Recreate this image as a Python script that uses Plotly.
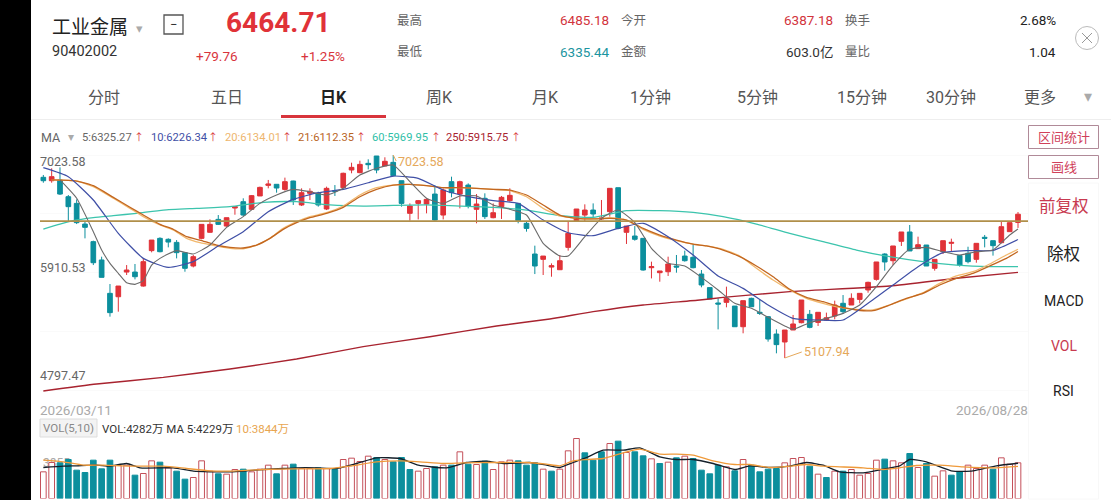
import plotly.graph_objects as go

W, H = 1111, 500

# ---- daily candles (index 0..117) ----
opens = [6813,6781,6788,6630,6567,6372,6206,6033,5718,5686,5919,5919,5787,6121,6237,6228,6199,6102,5976,6237,
         6294,6416,6353,6523,6583,6511,6637,6737,6747,6699,6778,6552,6662,6662,6514,6687,6715,6882,6857,6945,
         7014,6920,6954,6781,6473,6567,6561,6655,6457,6772,6655,6740,6511,6615,6432,6536,6593,6567,6379,6089,
         6039,5966,5941,6152,6404,6457,6504,6420,6489,6715,6294,6259,6237,5960,5913,5922,5976,6070,6058,5900,
         5772,5627,5633,5598,5403,5671,5539,5498,5334,5259,5372,5441,5520,5444,5466,5504,5624,5608,5661,5750,
         5850,6089,6026,6209,6297,6140,6174,5954,6111,6190,6074,6096,6039,6247,6215,6196,6300,6387.18]
closes = [6781,6819,6655,6536,6385,6341,6007,5869,5536,5787,5938,5875,6017,6221,6111,6202,6102,5954,6064,6369,
          6369,6369,6432,6536,6457,6640,6718,6750,6712,6772,6599,6668,6681,6552,6709,6681,6851,6907,6935,6932,
          6882,6964,6828,6567,6542,6593,6605,6410,6693,6668,6772,6542,6561,6442,6479,6624,6643,6404,6331,5976,
          6070,5979,6026,6284,6514,6504,6467,6429,6709,6331,6353,6228,5938,5970,5929,5995,5966,6026,5960,5797,
          5665,5617,5671,5403,5649,5592,5529,5287,5234,5372,5429,5655,5397,5539,5488,5608,5545,5671,5718,5822,
          6014,6014,6165,6297,6118,6177,5976,6039,6215,6199,5985,6017,6190,6237,6168,6347,6385,6464.71]
highs = [6835,6898,6907,6646,6605,6394,6215,6064,5806,5787,5985,5995,6048,6221,6247,6237,6221,6102,6080,6369,
         6416,6457,6432,6542,6615,6646,6725,6788,6747,6810,6781,6709,6709,6677,6725,6740,6857,6951,6970,6983,
         7010,7002,7023.58,6781,6567,6599,6615,6740,6709,6819,6781,6756,6655,6662,6567,6637,6709,6567,6394,6168,
         6070,6001,6080,6394,6514,6558,6567,6599,6709,6715,6353,6353,6237,6017,5929,6064,6080,6121,6183,5938,
         5772,5671,5781,5598,5649,5677,5655,5504,5378,5372,5514,5655,5561,5539,5536,5649,5702,5718,5718,5828,
         6014,6096,6165,6297,6363,6253,6174,6039,6215,6234,6080,6158,6190,6269,6215,6394,6385,6485.18]
lows = [6762,6762,6646,6394,6372,6237,5985,5869,5498,5545,5891,5850,5781,6105,6105,6152,6048,5922,5963,6228,
        6291,6363,6347,6460,6448,6504,6637,6709,6668,6687,6552,6542,6599,6536,6504,6637,6709,6851,6851,6888,
        6851,6920,6825,6536,6404,6416,6473,6404,6416,6624,6520,6520,6379,6420,6426,6420,6583,6379,6300,5900,
        5891,5875,5938,6121,6404,6401,6435,6410,6442,6322,6184,6215,5932,5859,5828,5882,5913,6017,5954,5775,
        5665,5378,5586,5403,5341,5592,5514,5262,5152,5107.94,5372,5435,5388,5410,5457,5473,5523,5608,5624,5724,
        5838,5932,5985,6165,6118,6140,5976,5932,6089,6111,5970,6001,6007,6152,6074,6190,6300,6335.44]

# ---- price moving averages ----
ma5_x = [2,4,6,7,8,9,10,11,12,13,14,16,18,20,22,24,26,28,30,32,34,36,38,40,42,44,46,48,50,52,54,56,58,60,62,63,65,67,69,71,73,75,77,79,81,83,85,87,89,90,92,94,96,98,100,102,104,106,108,110,112,114,116,117]
ma5_y = [6788,6615,6300,6127,6001,5907,5818,5803,5838,5985,6048,6121,6089,6174,6341,6442,6567,6646,6699,6677,6646,6709,6835,6898,6929,6772,6615,6567,6637,6637,6552,6511,6457,6190,6070,6070,6253,6426,6504,6385,6143,6001,5976,5869,5750,5624,5577,5492,5410,5378,5441,5482,5529,5608,5781,5985,6133,6152,6111,6080,6111,6127,6269,6325.27]
ma10_x = [0,3,6,9,12,15,18,21,24,27,30,33,36,39,42,45,48,51,54,57,60,63,66,69,72,75,78,81,84,87,90,93,96,99,102,105,108,111,114,117]
ma10_y = [6904,6819,6599,6284,6048,5963,6017,6165,6300,6489,6605,6668,6699,6762,6825,6803,6693,6630,6593,6567,6410,6290,6262,6331,6379,6253,6080,5882,5765,5608,5482,5466,5466,5624,5797,5970,6102,6121,6124,6226.34]
ma2x_x = [1,4,6,8.4,10.4,12,14,15.6,17.2,18.8,20.8,22.4,24,25.6,27.2,28.8,30.4,32,34,36,38,40,42,44,46,48,50,52,54,56,58,60,62,64,66,68,70,72,74,76,78,79.6,81.6,83.6,85.6,87.6,89.6,91.6,93.6,95.6,97.6,99.6,101.6,103.6,105.6,107.6,109.6,111.6,113.6,115.6,117]
ma20_y = [6788,6778,6725,6615,6520,6442,6363,6316,6237,6196,6165,6143,6139,6174,6237,6331,6394,6442,6479,6542,6646,6715,6740,6747,6734,6715,6715,6709,6699,6687,6630,6520,6448,6426,6420,6432,6410,6322,6259,6215,6183,6165,6133,6070,5954,5844,5750,5671,5624,5586,5567,5561,5608,5665,5724,5812,5882,5922,5995,6080,6134.01]
ma21_y = [6788,6778,6734,6624,6530,6457,6369,6322,6253,6221,6174,6152,6146,6174,6237,6322,6385,6432,6473,6530,6630,6699,6740,6747,6734,6715,6715,6709,6699,6693,6646,6552,6457,6426,6420,6426,6410,6331,6268,6221,6183,6165,6127,6064,5976,5875,5756,5680,5639,5592,5561,5554,5608,5671,5718,5797,5860,5907,5976,6048,6112.35]
ma60_x = [0,2,3.6,6,8.4,11.2,14.4,18.4,22.4,26.4,30.4,34.4,38.4,42,46,50,54,58,62,66,70,74,78,81.6,85.6,89.6,93.6,97.6,101.6,105.6,109.6,113.6,117]
ma60_y = [6325,6372,6404,6432,6451,6473,6504,6520,6536,6577,6583,6552,6542,6548,6552,6542,6530,6504,6451,6435,6498,6498,6482,6442,6372,6284,6206,6127,6064,6017,5985,5970,5969.95]
ma250_x = [0,6.4,14.4,22.4,30.4,38.4,46.4,54.4,60.8,66,72,78.8,81.6,89.6,101.6,109.6,117]
ma250_y = [4796,4862,4925,5004,5098,5215,5309,5410,5476,5545,5608,5655,5680,5734,5787,5860,5915.75]
level_price = 6400

# ---- volume (万) ----
volumes = [3200,4320,4280,4680,3400,3120,4600,3560,4600,3960,4000,2800,3000,4520,4360,3680,3280,2320,2520,4520,
           3280,2960,2920,3480,3520,3200,3520,4000,2960,4000,4120,3600,3600,3680,3600,3480,4680,4840,4440,5080,
           4920,4680,4400,4920,3480,3280,3600,3800,4000,4000,5600,4120,4080,4480,3480,4400,4600,4520,4000,4280,
           3520,3280,3520,5720,7200,5480,4600,5600,6600,6880,5520,5600,5120,4760,4200,4360,4880,5080,4800,3400,
           2960,4000,3800,3320,4680,4000,3200,3520,3600,4280,4800,4920,3880,2920,2520,3280,3280,3480,2800,3000,
           4600,4720,4520,4280,5400,3720,4200,2680,3320,2800,3200,4000,3600,4000,3520,4880,4120,4282]
vol_up = [1,1,0,0,0,0,0,0,0,1,1,0,1,1,0,1,0,0,1,1,
          1,0,1,1,0,1,1,1,0,1,0,1,1,0,1,0,1,1,1,1,
          0,1,0,0,0,1,1,0,1,0,1,0,1,0,1,1,1,0,0,0,
          1,0,1,1,1,0,0,0,1,0,1,0,0,1,0,1,0,1,0,0,
          0,0,1,0,1,0,0,0,0,1,1,1,0,1,0,1,0,1,1,1,
          1,0,1,1,0,1,0,1,1,0,0,1,1,1,0,1,1,1]
vma5_x = [0,2.4,4,6.4,8,10,11.6,15.6,18,20,22.4,24.4,26.4,28.8,30.4,32.8,35.2,37.6,40,42.8,45,48.4,50.8,53.2,55.2,58.4,60.4,62,63.6,65.2,67.2,69.6,71.6,74,76,78,80.4,83,84.8,87.2,89.6,91.6,93.6,95.6,98.4,100.8,102.8,104,106,109.2,111.6,114.4,117]
vma5_y = [3720,3880,3920,4000,3880,4200,3680,3680,3280,3200,3200,3320,3480,3600,3680,3680,3600,4200,4880,4800,4000,3680,4320,4480,4200,4320,4000,3720,4320,4920,5800,5800,6080,5000,4680,4680,4200,3480,3920,3720,3880,4320,4000,3200,3080,3520,3920,4680,4400,3280,3320,3920,4229]
vma10_x = [0,2.4,4.8,7.2,10.4,14.4,17.2,20,22.4,26.4,30.4,34.4,36.8,40,42.8,45.2,48,50.4,54.4,58,60.4,62,63.6,65.2,67.2,69.6,71.6,74,76,78,80.4,83,84.8,87.2,89.6,91.6,93.6,95.6,98.4,100.8,102.8,104.8,107.6,110.4,114.4,117]
vma10_y = [4600,4400,4000,4000,3880,3880,3600,3320,3280,3480,3560,3600,3880,4400,4520,4400,4200,4280,4320,4320,4120,3920,4520,4680,4800,5480,5920,5320,5320,5200,4520,4080,4080,3720,3880,4080,3880,3800,3680,3480,3680,3960,4000,3800,3680,3844]

# ---- axis labels ----
price_ticks = [7023.58, 5910.53, 4797.47]
price_grid = [7023.58, 6467.06, 5910.53, 5354.0, 4797.47]
date_labels = ["2026/03/11", "2026/08/28"]
tabs = ["分时", "五日", "日K", "周K", "月K", "1分钟", "5分钟", "15分钟", "30分钟", "更多"]
tab_pos = [104, 227, 333, 439, 545, 650, 757, 862, 951, 1040]

RED = "#e03238"
TEAL = "#0c8f9d"
HOLLOW = "#c4505a"
FONT = "Roboto, 'Noto Sans CJK SC', sans-serif"
candle_x = list(range(len(opens)))

fx = lambda p: p / W
fy = lambda p: 1 - p / H

fig = go.Figure()
fig.add_trace(go.Candlestick(
    x=candle_x, open=opens, high=highs, low=lows, close=closes, whiskerwidth=0,
    increasing=dict(line=dict(color=RED, width=1), fillcolor=RED),
    decreasing=dict(line=dict(color=TEAL, width=1), fillcolor=TEAL),
    xaxis="x", yaxis="y", showlegend=False))

def line(x, y, color, width=1.2, ax="x", ay="y"):
    fig.add_trace(go.Scatter(x=x, y=y, mode="lines", xaxis=ax, yaxis=ay, showlegend=False,
                             line=dict(color=color, width=width, shape="spline", smoothing=0.5),
                             hoverinfo="skip"))

line(ma60_x, ma60_y, "#3cc4ad", 1.3)
line(ma250_x, ma250_y, "#a8232f", 1.4)
line(ma2x_x, ma20_y, "#f2b86c", 1.3)
line(ma2x_x, ma21_y, "#c2661f", 1.3)
line(ma10_x, ma10_y, "#3f4fa6", 1.2)
line(ma5_x, ma5_y, "#6b6b6b", 1.1)

fig.add_trace(go.Bar(
    x=candle_x, y=volumes, width=0.68, xaxis="x2", yaxis="y2", showlegend=False,
    marker=dict(color=["white" if u else TEAL for u in vol_up],
                line=dict(color=[HOLLOW if u else TEAL for u in vol_up], width=1))))
line(vma5_x, vma5_y, "#15202a", 1.3, "x2", "y2")
line(vma10_x, vma10_y, "#ef9a3a", 1.3, "x2", "y2")

ann = []
def text(x, y, s, size=13, color="#333", anchor="left", bold=False):
    off = {"left": -2, "right": 2, "center": 0}[anchor]
    ann.append(dict(xref="paper", yref="paper", x=fx(x + off), y=fy(y), text=f"<b>{s}</b>" if bold else s,
                    showarrow=False, xanchor=anchor, yanchor="middle", align=anchor,
                    font=dict(family=FONT, size=size, color=color)))

# header
text(52, 27, "工业金属", 19, "#222")
text(136, 28, "▾", 13, "#aaa")
text(52, 52, "90402002", 14.5, "#333")
text(173.5, 24.5, "−", 13, "#333", "center")
text(278.5, 22, "6464.71", 28, "#e03238", "center", True)
text(217, 56, "+79.76", 13.5, "#d8343c", "center")
text(323, 56, "+1.25%", 13.5, "#d8343c", "center")
for x, y, s in [(397, 20, "最高"), (397, 52, "最低"), (621, 20, "今开"), (621, 52, "金额"), (845, 20, "换手"), (845, 52, "量比")]:
    text(x, y, s, 12.5, "#666")
text(609, 20, "6485.18", 13.5, "#d2343c", "right")
text(609, 52, "6335.44", 13.5, "#1b95a0", "right")
text(833, 20, "6387.18", 13.5, "#d2343c", "right")
text(833, 52, "603.0亿", 13.5, "#333", "right")
text(1056, 20, "2.68%", 13.5, "#222", "right")
text(1056, 52, "1.04", 13.5, "#222", "right")
for s, x in zip(tabs, tab_pos):
    active = s == "日K"
    text(x, 98, s, 16, "#222" if active else "#555", "center", active)
text(1088, 97, "▾", 16, "#aaa", "center")

# MA legend
text(41, 137, "MA", 12.5, "#666")
text(68, 137, "▾", 12, "#aaa")
ma_legend = [(82, "5:6325.27", "#666", 139), (151, "10:6226.34", "#3f4fa6", 213), (225, "20:6134.01", "#eeb66e", 286.5),
             (298, "21:6112.35", "#b9651f", 361), (372, "60:5969.95", "#2fbfa8", 435.5), (446, "250:5915.75", "#a8232f", 516)]
for x, s, c, ax in ma_legend:
    text(x, 137, s, 11.2, c)
    text(ax, 137, "↑", 10, "#d8343c", "center")

# price labels
for v, shift in zip(price_ticks, [-6, 5, 15]):
    ann.append(dict(xref="paper", yref="y", x=fx(38), y=v, text=f"{v:.2f}", showarrow=False, xanchor="left",
                    yanchor="middle", yshift=shift, font=dict(family=FONT, size=12.5, color="#666")))
ann.append(dict(x=42, y=max(highs), xref="x", yref="y", text="7023.58", xanchor="left", yanchor="middle",
                ax=3, ay=6, axref="pixel", ayref="pixel", showarrow=True, arrowhead=0, arrowwidth=1,
                arrowcolor="#e5a85a", font=dict(family=FONT, size=12.5, color="#e5a85a")))
ann.append(dict(x=89, y=min(lows), xref="x", yref="y", text="5107.94", xanchor="left", yanchor="middle",
                ax=17, ay=-6, axref="pixel", ayref="pixel", showarrow=True, arrowhead=0, arrowwidth=1,
                arrowcolor="#e5a85a", font=dict(family=FONT, size=12.5, color="#e5a85a")))

# dates & vol legend
text(40, 410, date_labels[0], 13.5, "#aaa")
text(1028, 410, date_labels[1], 13.5, "#aaa", "right")
text(43, 428, "VOL(5,10)", 11.5, "#888")
text(102, 429, "VOL:4282万 MA 5:4229万", 11.5, "#333")
text(236, 429, "10:3844万", 11.5, "#e8a550")

# right panel
text(1063.5, 137, "区间统计", 13, "#d0405a", "center")
text(1063.5, 167, "画线", 13, "#d0405a", "center")
text(1063.5, 207, "前复权", 16.5, "#c83a50", "center")
text(1063.5, 254, "除权", 16.5, "#222", "center")
text(1063.5, 301, "MACD", 14, "#222", "center")
text(1063.5, 346, "VOL", 14, "#c83a50", "center")
text(1063.5, 391, "RSI", 14, "#222", "center")

def rect(x0, y0, x1, y1, line_c=None, fill=None, w=1):
    return dict(type="rect", xref="paper", yref="paper", x0=fx(x0), x1=fx(x1), y0=fy(y0), y1=fy(y1),
                line=dict(color=line_c or "rgba(0,0,0,0)", width=w), fillcolor=fill or "rgba(0,0,0,0)")

def seg(x0, y0, x1, y1, c, w=1):
    return dict(type="line", xref="paper", yref="paper", x0=fx(x0), x1=fx(x1), y0=fy(y0), y1=fy(y1),
                line=dict(color=c, width=w))

shapes = [
    dict(type="line", xref="x", yref="y", x0=-0.4, x1=118.2, y0=level_price, y1=level_price,
         line=dict(color="#b08f4a", width=1.8)),
    rect(0, 0, 31, 500, None, "black"),
    rect(164, 15, 183, 34, "#555", None, 1.3),
    rect(281, 115, 386, 118, None, "#d8343c"),
    rect(31, 119, 1111, 120, None, "#eeeeee"),
    rect(1028.5, 125.5, 1098.5, 148.5, "#b08a98", None, 1),
    rect(1028.5, 155.5, 1098.5, 178.5, "#b08a98", None, 1),
    rect(1028.5, 183, 1098.5, 499, "#f8f8f8", None, 1),
    rect(40, 419, 97, 437, "#dddddd", "rgba(238,238,238,0.7)", 1),
    dict(type="circle", xref="paper", yref="paper", x0=fx(1075.5), x1=fx(1098.5), y0=fy(26.5), y1=fy(49.5),
         line=dict(color="#bbb", width=1)),
    seg(1082, 33, 1092, 43, "#999"),
    seg(1082, 43, 1092, 33, "#999"),
]

fig.update_layout(
    width=W, height=H, margin=dict(l=0, r=0, t=0, b=0), paper_bgcolor="white", plot_bgcolor="white",
    showlegend=False, annotations=ann, shapes=shapes, dragmode=False, boxgap=0.2,
    xaxis=dict(domain=[fx(40), fx(1028)], range=[-0.4, 118.2], visible=False, rangeslider=dict(visible=False)),
    yaxis=dict(domain=[fy(395), fy(150)], range=[7023.58 - 240 * 9.437, 7023.58 + 5 * 9.437], zeroline=False,
               tickvals=price_grid, showticklabels=False, showgrid=True, gridcolor="#fafafa", showline=False, ticks=""),
    xaxis2=dict(domain=[fx(40), fx(1028)], range=[-0.4, 118.2], visible=False, anchor="y2"),
    yaxis2=dict(domain=[fy(498.5), fy(430)], range=[0, 68.5 * 120], anchor="x2", zeroline=False, showgrid=False,
                tickvals=[4260], ticktext=["3855"], ticklabelposition="inside", layer="below traces", ticks="",
                tickfont=dict(family=FONT, size=12, color="#aaa")),
)
fig.write_html("out.html", config=dict(displayModeBar=False),
               post_script="document.body.style.margin='0';document.body.style.background='white';")
